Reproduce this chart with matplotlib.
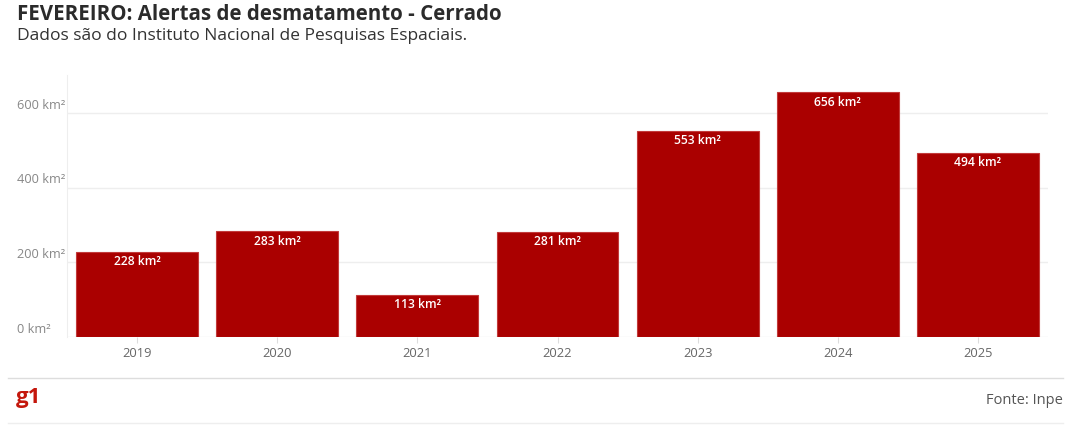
import matplotlib.pyplot as plt
import matplotlib.font_manager as fm
from matplotlib.lines import Line2D

years = ['2019', '2020', '2021', '2022', '2023', '2024', '2025']
alertas = [228, 283, 113, 281, 553, 656, 494]
yticks = [0, 200, 400, 600]


def font_file(name):
    for f in fm.fontManager.ttflist:
        if f.fname.endswith(name):
            return f.fname
    return None


def fp(name, size):
    path = font_file(name)
    if path:
        return fm.FontProperties(fname=path, size=size)
    return fm.FontProperties(family='DejaVu Sans', size=size)


regular = 'OpenSans-Regular.ttf'
bold = 'OpenSans-Bold.ttf'
semibold = 'OpenSans-Semibold.ttf'

fig = plt.figure(figsize=(10.72, 4.28), dpi=100)
ax = fig.add_axes([67 / 1072, (428 - 337) / 428, (1048 - 67) / 1072, (337 - 75) / 428])

x = range(len(years))
bars = ax.bar(x, alertas, width=0.87, color='#aa0000', edgecolor='#c23a3a', linewidth=0.8, zorder=3)
for b, v in zip(bars, alertas):
    ax.text(b.get_x() + b.get_width() / 2, v - 9, f'{v} km²', ha='center', va='top',
            color='white', fontproperties=fp(semibold, 8.7), zorder=4)

ax.set_xlim(-0.5, 6.5)
ax.set_ylim(0, 702)
ax.set_xticks(list(x))
ax.set_xticklabels(years, color='#666666')
for lbl in ax.get_xticklabels():
    lbl.set_fontproperties(fp(regular, 9.3))
ax.tick_params(axis='x', length=4, color='#dddddd', pad=3)
ax.set_yticks(yticks)
ax.set_yticklabels([])
ax.tick_params(axis='y', length=0)
for t in yticks:
    ax.text(-0.857, t + 4, f'{t} km²', ha='left', va='bottom',
            fontproperties=fp(regular, 9.2), color='#888888', clip_on=False)
    ax.axhline(t, color='#eeeeee', linewidth=1, zorder=1)

for s in ['top', 'right', 'bottom']:
    ax.spines[s].set_visible(False)
ax.spines['left'].set_color('#eeeeee')

fig.text(17 / 1072, 1 - 15 / 428, 'FEVEREIRO: Alertas de desmatamento - Cerrado',
         fontproperties=fp(bold, 14.8), color='#2b2b2b', va='center')
fig.text(17 / 1072, 1 - 36 / 428, 'Dados são do Instituto Nacional de Pesquisas Espaciais.',
         fontproperties=fp(regular, 12.5), color='#333333', va='center')

fig.add_artist(Line2D([8 / 1072, 1063 / 1072], [1 - 378 / 428] * 2, color='#dddddd', linewidth=1))
fig.add_artist(Line2D([8 / 1072, 1063 / 1072], [1 - 423 / 428] * 2, color='#eeeeee', linewidth=1))
fig.text(16 / 1072, 1 - 397 / 428, 'g1', fontproperties=fp(bold, 16),
         color='#c4170c', va='center')
fig.text(1063 / 1072, 1 - 400 / 428, 'Fonte: Inpe', fontproperties=fp(regular, 10.5),
         color='#555555', ha='right', va='center')

fig.savefig('out.png', dpi=100)
